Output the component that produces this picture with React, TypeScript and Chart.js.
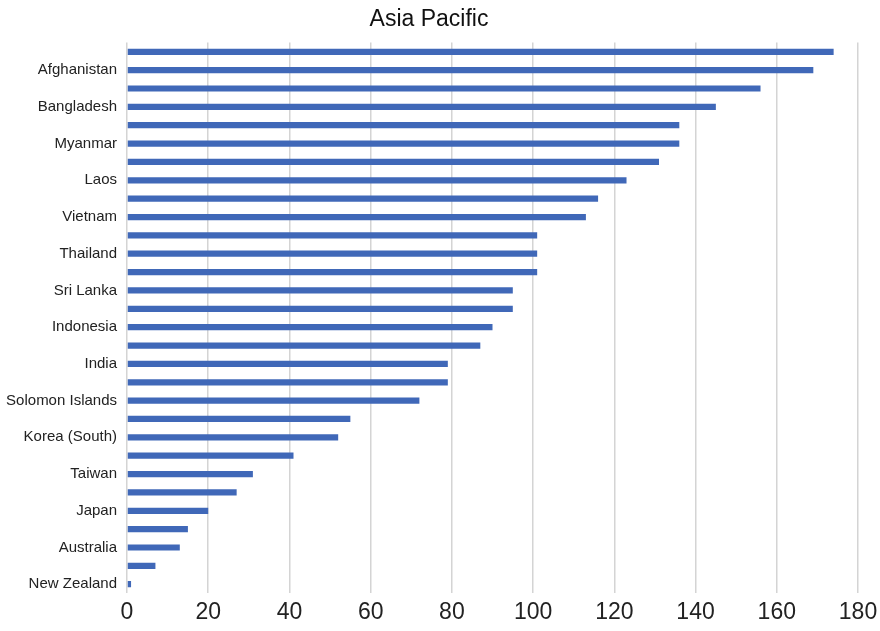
import React, { useEffect, useRef } from "react";
import { Chart, registerables } from "chart.js";

Chart.register(...registerables);

const TITLE = "Asia Pacific";

// 30 categories; only every other one carries a visible label in the source
const categories: string[] = [
  "", "Afghanistan",
  "", "Bangladesh",
  "", "Myanmar",
  "", "Laos",
  "", "Vietnam",
  "", "Thailand",
  "", "Sri Lanka",
  "", "Indonesia",
  "", "India",
  "", "Solomon Islands",
  "", "Korea (South)",
  "", "Taiwan",
  "", "Japan",
  "", "Australia",
  "", "New Zealand",
];

const values: number[] = [
  174, 169,
  156, 145,
  136, 136,
  131, 123,
  116, 113,
  101, 101,
  101, 95,
  95, 90,
  87, 79,
  79, 72,
  55, 52,
  41, 31,
  27, 20,
  15, 13,
  7, 1,
];

const xTicks: number[] = [0, 20, 40, 60, 80, 100, 120, 140, 160, 180];

const FONT = "'Liberation Sans', Arial, sans-serif";

export default function App() {
  const ref = useRef<HTMLCanvasElement | null>(null);

  useEffect(() => {
    document.body.style.margin = "0";
    const ctx = ref.current;
    if (!ctx) return;
    const chart = new Chart(ctx, {
      type: "bar",
      data: {
        labels: categories,
        datasets: [
          {
            data: values,
            backgroundColor: "#4068B8",
            borderWidth: 0,
            categoryPercentage: 1,
            barPercentage: 0.34,
          },
        ],
      },
      options: {
        indexAxis: "y",
        animation: false,
        responsive: false,
        maintainAspectRatio: false,
        layout: { padding: { left: 0, right: 22, top: 0, bottom: 0 } },
        plugins: {
          legend: { display: false },
          tooltip: { enabled: false },
          title: {
            display: true,
            text: TITLE,
            color: "#111",
            font: { family: FONT, size: 23, weight: "normal" },
            padding: { top: 6, bottom: 9 },
          },
        },
        scales: {
          x: {
            min: 0,
            max: 180,
            afterBuildTicks: (scale: any) => {
              scale.ticks = xTicks.map((v) => ({ value: v }));
            },
            afterFit: (scale: any) => {
              scale.paddingRight = 0;
            },
            grid: {
              color: "#d4d4d4",
              lineWidth: 1.5,
              drawTicks: false,
            },
            border: { display: false },
            ticks: {
              color: "#222",
              font: { family: FONT, size: 23 },
              padding: 5,
              maxRotation: 0,
            },
          },
          y: {
            grid: { display: false, drawTicks: false },
            border: { display: false },
            afterFit: (scale: any) => {
              scale.width = 127;
            },
            ticks: {
              autoSkip: false,
              color: "#222",
              font: { family: FONT, size: 15 },
              padding: 10,
            },
          },
        },
      },
    });
    return () => chart.destroy();
  }, []);

  return (
    <div style={{ width: 880, height: 631, background: "#fff" }}>
      <canvas ref={ref} width={880} height={631} style={{ width: 880, height: 631 }} />
    </div>
  );
}
